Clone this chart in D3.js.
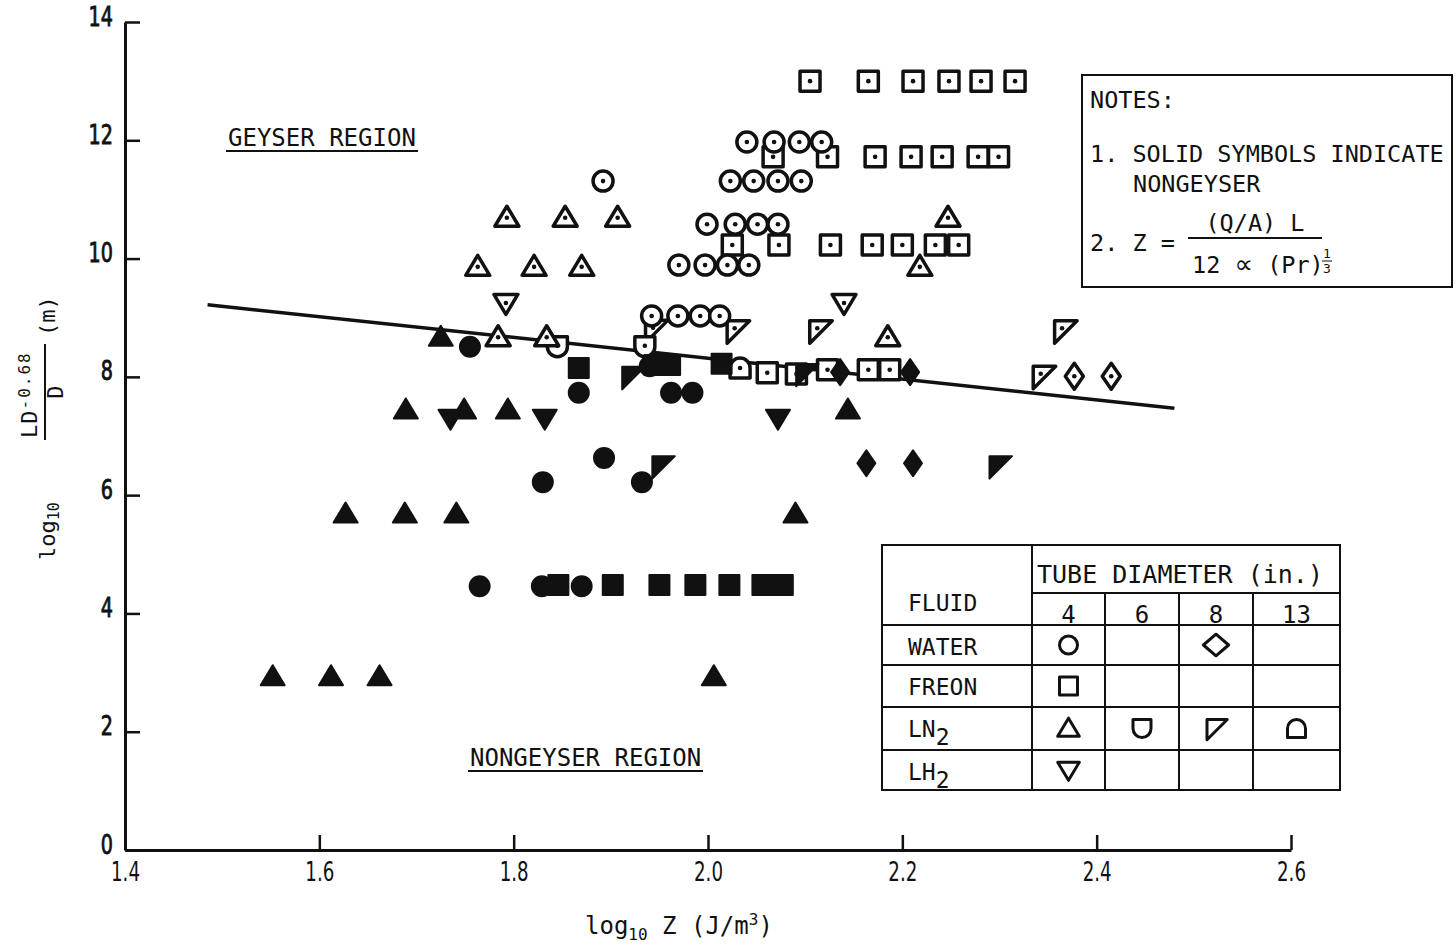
<!DOCTYPE html>
<html>
<head>
<meta charset="utf-8">
<script src="https://cdn.jsdelivr.net/npm/d3@7"></script>
<style>
  body { margin: 0; background: #fff; }
  svg text { font-family: "DejaVu Sans Mono", monospace; fill: #111; }
</style>
</head>
<body>
<div id="chart"></div>
<script>
// tick values
var xTickValues = [1.4, 1.6, 1.8, 2.0, 2.2, 2.4, 2.6];
var yTickValues = [0, 2, 4, 6, 8, 10, 12, 14];

// open symbols = geyser points  [log10 Z, log10 LD^-0.68/D]
var waterOpen4 = [[1.892, 11.31], [2.040, 11.97], [2.068, 11.97], [2.094, 11.97], [2.117, 11.97],
  [2.023, 11.31], [2.047, 11.31], [2.072, 11.31], [2.096, 11.31],
  [1.999, 10.58], [2.028, 10.58], [2.051, 10.58], [2.072, 10.58],
  [1.970, 9.89], [1.997, 9.89], [2.020, 9.89], [2.042, 9.89],
  [1.942, 9.03], [1.969, 9.03], [1.992, 9.03], [2.012, 9.03]];
var waterOpen8 = [[2.377, 8.01], [2.415, 8.01]];
var freonOpen4 = [[2.105, 13.0], [2.165, 13.0], [2.211, 13.0], [2.248, 13.0], [2.281, 13.0], [2.316, 13.0],
  [2.067, 11.72], [2.123, 11.72], [2.172, 11.72], [2.209, 11.72], [2.241, 11.72], [2.278, 11.72], [2.299, 11.72],
  [2.025, 10.23], [2.073, 10.23], [2.126, 10.23], [2.169, 10.23], [2.200, 10.23], [2.234, 10.23], [2.258, 10.23],
  [2.061, 8.07], [2.091, 8.05], [2.123, 8.12], [2.165, 8.12], [2.187, 8.12]];
var ln2Open4 = [[1.793, 10.69], [1.853, 10.69], [1.907, 10.69], [2.247, 10.69],
  [1.763, 9.86], [1.821, 9.86], [1.870, 9.86], [2.218, 9.86],
  [1.784, 8.67], [1.834, 8.67], [2.185, 8.67]];
var ln2Open6 = [[1.845, 8.51], [1.935, 8.51]];
var ln2Open8 = [[1.946, 8.79], [2.030, 8.78], [2.115, 8.78], [2.367, 8.78], [2.345, 8.01]];
var ln2Open13 = [[2.033, 8.15]];
var lh2Open4 = [[1.792, 9.25], [2.140, 9.25]];

// solid symbols = nongeyser points
var waterSolid4 = [[1.755, 8.51], [1.940, 8.18], [1.867, 7.73], [1.962, 7.73], [1.984, 7.73],
  [1.893, 6.63], [1.830, 6.22], [1.932, 6.22], [1.765, 4.46], [1.829, 4.46], [1.870, 4.46]];
var waterSolid8 = [[2.136, 8.08], [2.208, 8.08], [2.163, 6.54], [2.211, 6.54]];
var freonSolid4 = [[1.867, 8.15], [1.945, 8.2], [1.961, 8.2], [2.014, 8.22],
  [1.846, 4.48], [1.902, 4.48], [1.950, 4.48], [1.987, 4.48], [2.022, 4.48], [2.056, 4.48], [2.077, 4.48]];
var ln2Solid4 = [[1.725, 8.67], [1.689, 7.44], [1.749, 7.44], [1.794, 7.44], [2.144, 7.44],
  [1.627, 5.68], [1.688, 5.68], [1.741, 5.68], [2.090, 5.68],
  [1.552, 2.93], [1.612, 2.93], [1.662, 2.93], [2.006, 2.93]];
var ln2Solid8 = [[1.922, 8.0], [1.953, 6.49], [2.101, 8.05], [2.300, 6.49]];
var lh2Solid4 = [[1.735, 7.30], [1.832, 7.30], [2.072, 7.30]];

// boundary line
var fitLine = [[1.485, 9.22], [2.48, 7.47]];

// legend table contents
var fluids = ["WATER", "FREON", "LN", "LH"];
var fluidSubs = ["", "", "2", "2"];
var diameters = ["4", "6", "8", "13"];
var legendCells = [[0, 0, "circle"], [0, 2, "diamondWide"], [1, 0, "square"],
  [2, 0, "triUp"], [2, 1, "cup"], [2, 2, "flag"], [2, 3, "cap"], [3, 0, "triDown"]];

// draw order: open first (line under them), solid on top
var series = [
  {data: ln2Open8, shape: "flag", solid: false},
  {data: ln2Open6, shape: "cup", solid: false},
  {data: ln2Open13, shape: "cap", solid: false},
  {data: freonOpen4, shape: "square", solid: false},
  {data: waterOpen4, shape: "circle", solid: false},
  {data: ln2Open4, shape: "triUp", solid: false},
  {data: lh2Open4, shape: "triDown", solid: false},
  {data: waterOpen8, shape: "diamond", solid: false},
  {data: waterSolid4, shape: "circle", solid: true},
  {data: freonSolid4, shape: "square", solid: true},
  {data: ln2Solid4, shape: "triUp", solid: true},
  {data: lh2Solid4, shape: "triDown", solid: true},
  {data: ln2Solid8, shape: "flag", solid: true},
  {data: waterSolid8, shape: "diamond", solid: true}
];

var svgWidth = 1456;
var svgHeight = 946;
var margin = {top: 22, right: 165, bottom: 96, left: 125};
var width = svgWidth - margin.left - margin.right;
var height = svgHeight - margin.top - margin.bottom;

var svg = d3.select("#chart").append("svg")
  .attr("width", svgWidth)
  .attr("height", svgHeight);

var chartGroup = svg.append("g")
  .attr("transform", `translate(${margin.left}, ${margin.top})`);

var xScale = d3.scaleLinear().domain([1.4, 2.6]).range([0, width]);
var yScale = d3.scaleLinear().domain([0, 14]).range([height, 0]);

// symbol outlines, centred on 0,0
function shapePath(kind, r) {
  switch (kind) {
    case "circle":
      return `M${r},0A${r},${r} 0 1 1 ${-r},0A${r},${r} 0 1 1 ${r},0Z`;
    case "square":
      return `M${-r},${-r}H${r}V${r}H${-r}Z`;
    case "triUp":
      return `M0,${-r * 1.15}L${r * 1.2},${r * 0.85}L${-r * 1.2},${r * 0.85}Z`;
    case "triDown":
      return `M0,${r * 1.15}L${r * 1.2},${-r * 0.85}L${-r * 1.2},${-r * 0.85}Z`;
    case "diamond":
      return `M0,${-r * 1.3}L${r * 0.9},0L0,${r * 1.3}L${-r * 0.9},0Z`;
    case "diamondWide":
      return `M0,${-r * 1.2}L${r * 1.4},0L0,${r * 1.2}L${-r * 1.4},0Z`;
    case "flag":
      return `M${-r},${-r}L${r * 1.25},${-r}L${-r},${r * 1.25}Z`;
    case "cup":
      return `M${-r},${-r}H${r}V0A${r},${r} 0 0 1 ${-r},0Z`;
    case "cap":
      return `M${-r},${r}V0A${r},${r} 0 0 1 ${r},0V${r}Z`;
  }
}

// axes
var bottomAxis = d3.axisBottom(xScale)
  .tickValues(xTickValues)
  .tickSize(-15)
  .tickSizeOuter(0)
  .tickPadding(13)
  .tickFormat(d3.format(".1f"));
var leftAxis = d3.axisLeft(yScale)
  .tickValues(yTickValues)
  .tickSize(-15)
  .tickSizeOuter(0)
  .tickPadding(0);

var xAxisG = chartGroup.append("g")
  .attr("transform", `translate(0, ${height})`)
  .call(bottomAxis);
xAxisG.selectAll("text")
  .attr("transform", "scale(0.78,1)")
  .style("font-family", "'DejaVu Sans Condensed', 'DejaVu Sans', sans-serif")
  .style("font-stretch", "condensed")
  .style("font-size", "26px");

var yAxisG = chartGroup.append("g").call(leftAxis);
yAxisG.selectAll("text")
  .attr("x", 0)
  .attr("dy", "0.12em")
  .attr("transform", "translate(-12,0) scale(0.82,1)")
  .style("font-family", "'DejaVu Sans Condensed', 'DejaVu Sans', sans-serif")
  .style("font-stretch", "condensed")
  .style("font-size", "26px")
  .style("stroke", "#111")
  .style("stroke-width", 0.8);

[xAxisG, yAxisG].forEach(function(g) {
  g.select(".domain").attr("stroke", "#111").attr("stroke-width", 3);
  g.selectAll(".tick line").attr("stroke", "#111").attr("stroke-width", 2.5);
});

// boundary line
chartGroup.append("path")
  .datum(fitLine)
  .attr("d", d3.line().x(d => xScale(d[0])).y(d => yScale(d[1])))
  .attr("fill", "none")
  .attr("stroke", "#111")
  .attr("stroke-width", 3.5);

// points
series.forEach(function(s) {
  var g = chartGroup.append("g");
  var pts = g.selectAll("g")
    .data(s.data)
    .enter()
    .append("g")
    .attr("transform", d => `translate(${xScale(d[0])}, ${yScale(d[1])})`);
  pts.append("path")
    .attr("d", shapePath(s.shape, 10))
    .attr("fill", s.solid ? "#111" : "#fff")
    .attr("stroke", "#111")
    .attr("stroke-width", s.solid ? 2 : 3.5)
    .attr("stroke-linejoin", "round");
  if (!s.solid) {
    pts.append("circle")
      .attr("cx", s.shape == "flag" ? -2.5 : 0)
      .attr("cy", s.shape == "flag" ? -2.5 : (s.shape == "cup" ? -1 : 0))
      .attr("r", 2.3)
      .attr("fill", "#111");
  }
});

// region labels
function underlined(x, y, txt, len) {
  svg.append("text").attr("x", x).attr("y", y).style("font-size", "24px").text(txt);
  svg.append("line").attr("x1", x - 2).attr("x2", x + len).attr("y1", y + 5).attr("y2", y + 5)
    .attr("stroke", "#111").attr("stroke-width", 2);
}
underlined(228, 146, "GEYSER REGION", 190);
underlined(470, 766, "NONGEYSER REGION", 233);

// notes box
var notes = svg.append("g");
notes.append("rect").attr("x", 1082).attr("y", 75).attr("width", 370).attr("height", 212)
  .attr("fill", "#fff").attr("stroke", "#111").attr("stroke-width", 2);
notes.append("text").attr("x", 1090).attr("y", 108).style("font-size", "23.5px").text("NOTES:");
notes.append("text").attr("x", 1090).attr("y", 162).style("font-size", "23.5px").text("1. SOLID SYMBOLS INDICATE");
notes.append("text").attr("x", 1133).attr("y", 192).style("font-size", "23.5px").text("NONGEYSER");
notes.append("text").attr("x", 1090).attr("y", 251).style("font-size", "23.5px").text("2. Z =");
notes.append("text").attr("x", 1255).attr("y", 231).attr("text-anchor", "middle")
  .style("font-size", "23.5px").text("(Q/A) L");
notes.append("line").attr("x1", 1188).attr("x2", 1322).attr("y1", 238).attr("y2", 238)
  .attr("stroke", "#111").attr("stroke-width", 2);
var den = notes.append("text").attr("x", 1192).attr("y", 273).style("font-size", "23.5px");
den.append("tspan").text("12 ");
den.append("tspan").style("font-family", "'DejaVu Sans', sans-serif").style("font-size", "26px").text("\u221D");
den.append("tspan").text(" (Pr)");
notes.append("text").attr("x", 1327).attr("y", 258).attr("text-anchor", "middle")
  .style("font-size", "13px").text("1");
notes.append("line").attr("x1", 1322).attr("x2", 1332).attr("y1", 261).attr("y2", 261)
  .attr("stroke", "#111").attr("stroke-width", 1);
notes.append("text").attr("x", 1327).attr("y", 273).attr("text-anchor", "middle")
  .style("font-size", "13px").text("3");

// legend table
var colX = [882, 1032, 1105, 1179, 1253, 1340];
var rowY = [545, 593, 625, 665, 707, 750, 790];
var legend = svg.append("g");
legend.append("rect").attr("x", colX[0]).attr("y", rowY[0])
  .attr("width", colX[5] - colX[0]).attr("height", rowY[6] - rowY[0])
  .attr("fill", "#fff").attr("stroke", "#111").attr("stroke-width", 2);
function tline(x1, y1, x2, y2) {
  legend.append("line").attr("x1", x1).attr("y1", y1).attr("x2", x2).attr("y2", y2)
    .attr("stroke", "#111").attr("stroke-width", 2);
}
tline(colX[1], rowY[0], colX[1], rowY[6]);
tline(colX[1], rowY[1], colX[5], rowY[1]);
[2, 3, 4].forEach(i => tline(colX[i], rowY[1], colX[i], rowY[6]));
[2, 3, 4, 5].forEach(j => tline(colX[0], rowY[j], colX[5], rowY[j]));

legend.append("text").attr("x", 1037).attr("y", 583).style("font-size", "25px").text("TUBE DIAMETER (in.)");
legend.append("text").attr("x", 908).attr("y", 611).style("font-size", "23px").text("FLUID");
diameters.forEach(function(d, i) {
  legend.append("text").attr("x", (colX[i + 1] + colX[i + 2]) / 2).attr("y", 623)
    .attr("text-anchor", "middle").style("font-size", "24px").text(d);
});
fluids.forEach(function(f, i) {
  var t = legend.append("text").attr("x", 908).attr("y", rowY[i + 2] + 30).style("font-size", "23px");
  t.append("tspan").text(f);
  if (fluidSubs[i]) t.append("tspan").attr("dy", 8).text(fluidSubs[i]);
});
legendCells.forEach(function(c) {
  var cx = (colX[c[1] + 1] + colX[c[1] + 2]) / 2;
  var cy = (rowY[c[0] + 2] + rowY[c[0] + 3]) / 2;
  legend.append("path")
    .attr("transform", `translate(${cx}, ${cy})`)
    .attr("d", shapePath(c[2], 9))
    .attr("fill", "none").attr("stroke", "#111").attr("stroke-width", 3)
    .attr("stroke-linejoin", "round");
});

// x axis title
var xt = svg.append("text").attr("x", 585).attr("y", 934).style("font-size", "24px");
xt.append("tspan").text("log");
xt.append("tspan").attr("dy", 6).style("font-size", "16px").text("10");
xt.append("tspan").attr("dy", -6).text(" Z (J/m");
xt.append("tspan").attr("dy", -9).style("font-size", "16px").text("3");
xt.append("tspan").attr("dy", 9).text(")");

// y axis title, rotated
var yt = svg.append("g").attr("transform", "translate(45, 440) rotate(-90)");
var ylog = yt.append("text").attr("x", -120).attr("y", 10).style("font-size", "22px");
ylog.append("tspan").text("log");
ylog.append("tspan").attr("dy", 4).style("font-size", "15px").text("10");
var ynum = yt.append("text").attr("x", 2).attr("y", -8).style("font-size", "22px");
ynum.append("tspan").attr("letter-spacing", 1).text("LD");
ynum.append("tspan").attr("dy", -7).attr("letter-spacing", 2).style("font-size", "16px").text("-0.68");
yt.append("line").attr("x1", 0).attr("x2", 96).attr("y1", 0).attr("y2", 0)
  .attr("stroke", "#111").attr("stroke-width", 2);
yt.append("text").attr("x", 48).attr("y", 18).attr("text-anchor", "middle")
  .style("font-size", "22px").text("D");
yt.append("text").attr("x", 104).attr("y", 10).style("font-size", "22px").text("(m)");
</script>
</body>
</html>
